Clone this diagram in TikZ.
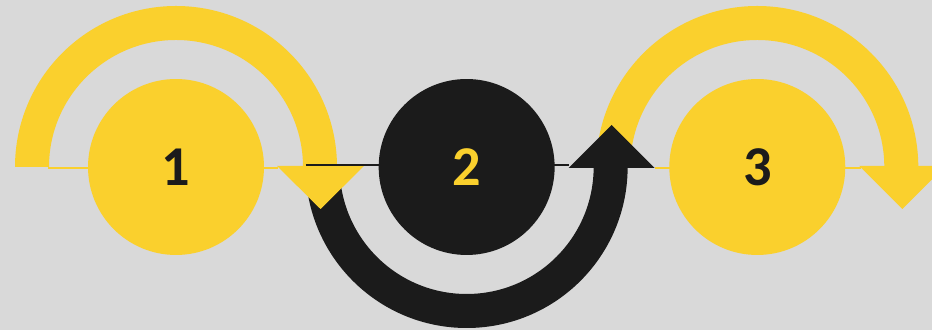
\documentclass[tikz,border=0pt]{standalone}
\usepackage{fontspec}
\setsansfont{Carlito}
\usetikzlibrary{calc, positioning, backgrounds}
\definecolor{CYgold}{HTML}{FAD02D}
\definecolor{CYink}{HTML}{1B1B1B}
\definecolor{CYbg}{HTML}{D9D9D9}
\tikzset{
  cystep/.style={circle, minimum size=3.52cm, inner sep=0pt,
    font=\fontsize{32}{36}\selectfont\sffamily\bfseries},
  cygold/.style={cystep, fill=CYgold, text=CYink},
  cydark/.style={cystep, fill=CYink, text=CYgold},
  cythin/.style={line width=0.75pt, draw=#1},
}

\begin{document}
\begin{tikzpicture}[x=0.02cm, y=0.02cm, node distance=2.28cm]
  \clip (0,0) rectangle (932,330);
  \node[cygold] (c1) at (176,163) {1};
  \node[cydark, right=of c1] (c2) {2};
  \node[cygold, right=of c2] (c3) {3};
  \begin{scope}[on background layer]
    \fill[CYbg] (0,0) rectangle (932,330);
    % ring arrow round 3
    \fill[CYgold] ($(c3)+(-161,0)$) arc[start angle=180, end angle=0, radius=161]
      -- ++(-34,0) arc[start angle=0, end angle=180, radius=127] -- cycle;
    \fill[CYgold] ($(c3)+(102,1)$) -- ($(c3)+(188,1)$) -- ($(c3)+(145,-42)$) -- cycle;
    % ring arrow under 2
    \fill[CYink] ($(c2)+(-161,0)$) arc[start angle=180, end angle=360, radius=161]
      -- ++(-34,0) arc[start angle=360, end angle=180, radius=127] -- cycle;
    \fill[CYink] ($(c2)+(102,-1)$) -- ($(c2)+(188,-1)$) -- ($(c2)+(145,42)$) -- cycle;
    % ring arrow round 1
    \fill[CYgold] ($(c1)+(-161,0)$) arc[start angle=180, end angle=0, radius=161]
      -- ++(-34,0) arc[start angle=0, end angle=180, radius=127] -- cycle;
    \fill[CYgold] ($(c1)+(101,1)$) -- ($(c1)+(188,1)$) -- ($(c1)+(144.5,-42)$) -- cycle;
    % thin joins
    \draw[cythin=CYgold] ($(c1)+(-128,-1)$) -- ($(c1)+(102,-1)$);
    \draw[cythin=CYink] ($(c2)+(-161,2)$) -- ($(c2)+(102,2)$);
    \draw[cythin=CYgold] ($(c3)+(-102,-1)$) -- ($(c3)+(104,-1)$);
  \end{scope}
\end{tikzpicture}
\end{document}
